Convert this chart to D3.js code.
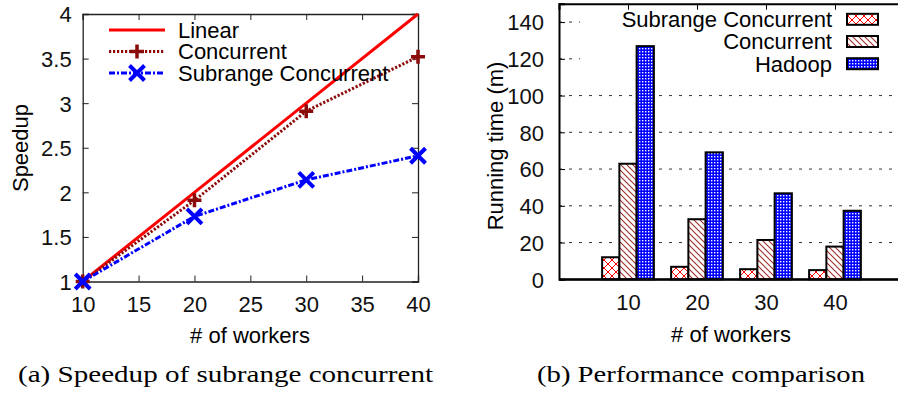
<!DOCTYPE html>
<html>
<head>
<meta charset="utf-8">
<script src="https://cdn.jsdelivr.net/npm/d3@7"></script>
<style>
  html, body { margin: 0; padding: 0; background: #fff; }
  svg { display: block; }
  .sans { font-family: "Liberation Sans", Arial, Helvetica, sans-serif; }
  .serif { font-family: "Liberation Serif", "DejaVu Serif", serif; }
</style>
</head>
<body>
<svg id="fig" width="898" height="393"></svg>
<script>
// ---- data ----
const workers = [10, 20, 30, 40];
const linearSpeedup = [1, 2, 3, 4];
const concurrentSpeedup = [1, 1.91, 2.91, 3.52];
const subrangeSpeedup = [1, 1.73, 2.14, 2.41];

const workerLabels = ["10", "20", "30", "40"];
const subrangeTime = [12.0, 6.8, 5.5, 5.0];
const concurrentTime = [62.9, 32.7, 21.4, 17.8];
const hadoopTime = [126.9, 69.1, 46.8, 37.3];

const speedupTicks = [1, 1.5, 2, 2.5, 3, 3.5, 4];
const workerTicks = [10, 15, 20, 25, 30, 35, 40];
const timeTicks = [0, 20, 40, 60, 80, 100, 120, 140];

const FS = 22;
const svg = d3.select("#fig");
const defs = svg.append("defs");

// ---- fill patterns for the bars ----
const pCross = defs.append("pattern").attr("id", "pCross")
  .attr("patternUnits", "userSpaceOnUse").attr("width", 8).attr("height", 8);
pCross.append("rect").attr("width", 8).attr("height", 8).attr("fill", "#fff");
pCross.append("path").attr("d", "M0,0L8,8M8,0L0,8")
  .attr("stroke", "#ff0000").attr("stroke-width", 1).attr("fill", "none");

const pDiag = defs.append("pattern").attr("id", "pDiag")
  .attr("patternUnits", "userSpaceOnUse").attr("width", 6).attr("height", 6);
pDiag.append("rect").attr("width", 6).attr("height", 6).attr("fill", "#fff");
pDiag.append("path").attr("d", "M0,0L6,6M-1,5L1,7M5,-1L7,1")
  .attr("stroke", "#a0302a").attr("stroke-width", 1.1).attr("fill", "none");

const pDots = defs.append("pattern").attr("id", "pDots")
  .attr("patternUnits", "userSpaceOnUse").attr("width", 3).attr("height", 3);
pDots.append("rect").attr("width", 3).attr("height", 3).attr("fill", "#0000ff");
pDots.append("rect").attr("width", 1.4).attr("height", 1.4).attr("fill", "#fff");

// =================== (a) speedup ===================
const A = { left: 82.7, right: 418, top: 14, bottom: 281.5 };
const xa = d3.scaleLinear().domain([10, 40]).range([A.left, A.right]);
const ya = d3.scaleLinear().domain([1, 4]).range([A.bottom, A.top]);
const ga = svg.append("g");

function styleAxis(g, frame) {
  g.select(".domain").attr("stroke", frame.color).attr("stroke-width", frame.width);
  g.selectAll(".tick line").attr("stroke", frame.color).attr("stroke-width", 1);
  g.selectAll(".tick text").attr("class", "sans").attr("font-size", FS).attr("fill", "#111");
}

const frameA = { color: "#222", width: 1.3 };
const axLeftA = ga.append("g").attr("transform", `translate(${A.left},0)`)
  .call(d3.axisLeft(ya).tickValues(speedupTicks).tickSize(-6).tickPadding(11)
    .tickFormat(d3.format("")));
styleAxis(axLeftA, frameA);
axLeftA.selectAll(".tick text").attr("dy", "0.36em");

const axRightA = ga.append("g").attr("transform", `translate(${A.right},0)`)
  .call(d3.axisRight(ya).tickValues(speedupTicks).tickSize(-6).tickFormat(""));
styleAxis(axRightA, frameA);

const axBottomA = ga.append("g").attr("transform", `translate(0,${A.bottom})`)
  .call(d3.axisBottom(xa).tickValues(workerTicks).tickSize(-6).tickPadding(0)
    .tickFormat(d3.format("d")));
styleAxis(axBottomA, frameA);
axBottomA.selectAll(".tick text").attr("y", 30).attr("dy", 0);

const axTopA = ga.append("g").attr("transform", `translate(0,${A.top})`)
  .call(d3.axisTop(xa).tickValues(workerTicks).tickSize(-6).tickFormat(""));
styleAxis(axTopA, frameA);

ga.append("text").attr("class", "sans").attr("font-size", FS)
  .attr("transform", "translate(27.5,148) rotate(-90)")
  .attr("text-anchor", "middle").text("Speedup");
ga.append("text").attr("class", "sans").attr("font-size", FS)
  .attr("x", 250).attr("y", 343).attr("text-anchor", "middle").text("# of workers");
ga.append("text").attr("class", "serif").attr("font-size", 24)
  .attr("x", 18).attr("y", 382).attr("textLength", 415).attr("lengthAdjust", "spacingAndGlyphs")
  .text("(a) Speedup of subrange concurrent");

const seriesA = [
  { name: "Linear", values: linearSpeedup, color: "#ff0000", dash: null, marker: null },
  { name: "Concurrent", values: concurrentSpeedup, color: "#8b0a0a", dash: "2.2,1.8", marker: "plus" },
  { name: "Subrange Concurrent", values: subrangeSpeedup, color: "#0000ff", dash: "6,2,2,2", marker: "cross" }
];

const line = d3.line().x((d, i) => xa(workers[i])).y(d => ya(d));

function drawMarker(g, kind, cx, cy, color) {
  if (kind === "plus") {
    g.append("path").attr("d", `M${cx - 7},${cy}H${cx + 7}M${cx},${cy - 7}V${cy + 7}`)
      .attr("stroke", color).attr("stroke-width", 3.5).attr("fill", "none");
  } else if (kind === "cross") {
    const s = 7.5;
    g.append("path").attr("d", `M${cx - s},${cy - s}L${cx + s},${cy + s}M${cx + s},${cy - s}L${cx - s},${cy + s}`)
      .attr("stroke", color).attr("stroke-width", 4).attr("fill", "none");
  }
}

seriesA.forEach(s => {
  ga.append("path").datum(s.values).attr("d", line)
    .attr("fill", "none").attr("stroke", s.color).attr("stroke-width", 3)
    .attr("stroke-dasharray", s.dash);
});
seriesA.forEach(s => {
  if (s.marker) s.values.forEach((v, i) => drawMarker(ga, s.marker, xa(workers[i]), ya(v), s.color));
});

// legend (a)
seriesA.forEach((s, i) => {
  const ly = 30 + i * 21.5;
  ga.append("line").attr("x1", 109).attr("x2", 165).attr("y1", ly).attr("y2", ly)
    .attr("stroke", s.color).attr("stroke-width", 3).attr("stroke-dasharray", s.dash);
  if (s.marker) drawMarker(ga, s.marker, 137, ly, s.color);
  ga.append("text").attr("class", "sans").attr("font-size", FS)
    .attr("x", 178).attr("y", ly + 7.8).text(s.name);
});

// =================== (b) running time ===================
const B = { left: 559, right: 904, top: 3.7, bottom: 279.3 };
const xb = d3.scaleLinear().domain([-1, 4]).range([B.left, B.right]);
const yb = d3.scaleLinear().domain([0, 150]).range([B.bottom, B.top]);
const gb = svg.append("g");
const frameB = { color: "#000", width: 2 };

// grid
gb.append("g").selectAll("line").data(timeTicks.filter(t => t > 0)).join("line")
  .attr("x1", B.left).attr("x2", B.right)
  .attr("y1", d => yb(d)).attr("y2", d => yb(d))
  .attr("stroke", "#333").attr("stroke-width", 1).attr("stroke-dasharray", "3,7");

// opaque key background
gb.append("rect").attr("x", 580).attr("y", 8).attr("width", 312).attr("height", 66).attr("fill", "#fff");

const axLeftB = gb.append("g").attr("transform", `translate(${B.left},0)`)
  .call(d3.axisLeft(yb).tickValues(timeTicks).tickSize(-6).tickPadding(15));
styleAxis(axLeftB, frameB);
axLeftB.selectAll(".tick text").attr("dy", "0.36em");

const axTopB = gb.append("g").attr("transform", `translate(0,${B.top})`)
  .call(d3.axisTop(xb).tickValues(d3.range(workerLabels.length)).tickSize(-6).tickFormat(""));
styleAxis(axTopB, frameB);

const axBottomB = gb.append("g").attr("transform", `translate(0,${B.bottom})`)
  .call(d3.axisBottom(xb).tickValues(d3.range(workerLabels.length)).tickSize(0).tickPadding(0)
    .tickFormat(i => workerLabels[i]));
styleAxis(axBottomB, frameB);
axBottomB.selectAll(".tick text").attr("y", 31).attr("dy", 0);

const seriesB = [
  { name: "Subrange Concurrent", values: subrangeTime, fill: "url(#pCross)" },
  { name: "Concurrent", values: concurrentTime, fill: "url(#pDiag)" },
  { name: "Hadoop", values: hadoopTime, fill: "url(#pDots)" }
];
const barW = 0.25;
seriesB.forEach((s, k) => {
  const off = -0.375 + k * barW;
  gb.append("g").selectAll("rect").data(s.values).join("rect")
    .attr("x", (d, i) => xb(i + off))
    .attr("width", (d, i) => xb(i + off + barW) - xb(i + off))
    .attr("y", d => yb(d))
    .attr("height", d => yb(0) - yb(d))
    .attr("fill", s.fill).attr("stroke", "#000").attr("stroke-width", 2);
});

// redraw bottom axis line on top of bars
gb.append("line").attr("x1", B.left).attr("x2", B.right).attr("y1", B.bottom).attr("y2", B.bottom)
  .attr("stroke", "#000").attr("stroke-width", 2);

// legend (b)
seriesB.forEach((s, i) => {
  const ly = 19.3 + i * 22.2;
  gb.append("rect").attr("x", 847).attr("y", ly - 5.5).attr("width", 31).attr("height", 11)
    .attr("fill", s.fill).attr("stroke", "#000").attr("stroke-width", 2);
  gb.append("text").attr("class", "sans").attr("font-size", FS)
    .attr("x", 832).attr("y", ly + 7.8).attr("text-anchor", "end").text(s.name);
});

gb.append("text").attr("class", "sans").attr("font-size", FS)
  .attr("transform", "translate(502.5,146) rotate(-90)")
  .attr("text-anchor", "middle").text("Running time (m)");
gb.append("text").attr("class", "sans").attr("font-size", FS)
  .attr("x", 731).attr("y", 341.5).attr("text-anchor", "middle").text("# of workers");
gb.append("text").attr("class", "serif").attr("font-size", 24)
  .attr("x", 537).attr("y", 382).attr("textLength", 328).attr("lengthAdjust", "spacingAndGlyphs")
  .text("(b) Performance comparison");
</script>
</body>
</html>
